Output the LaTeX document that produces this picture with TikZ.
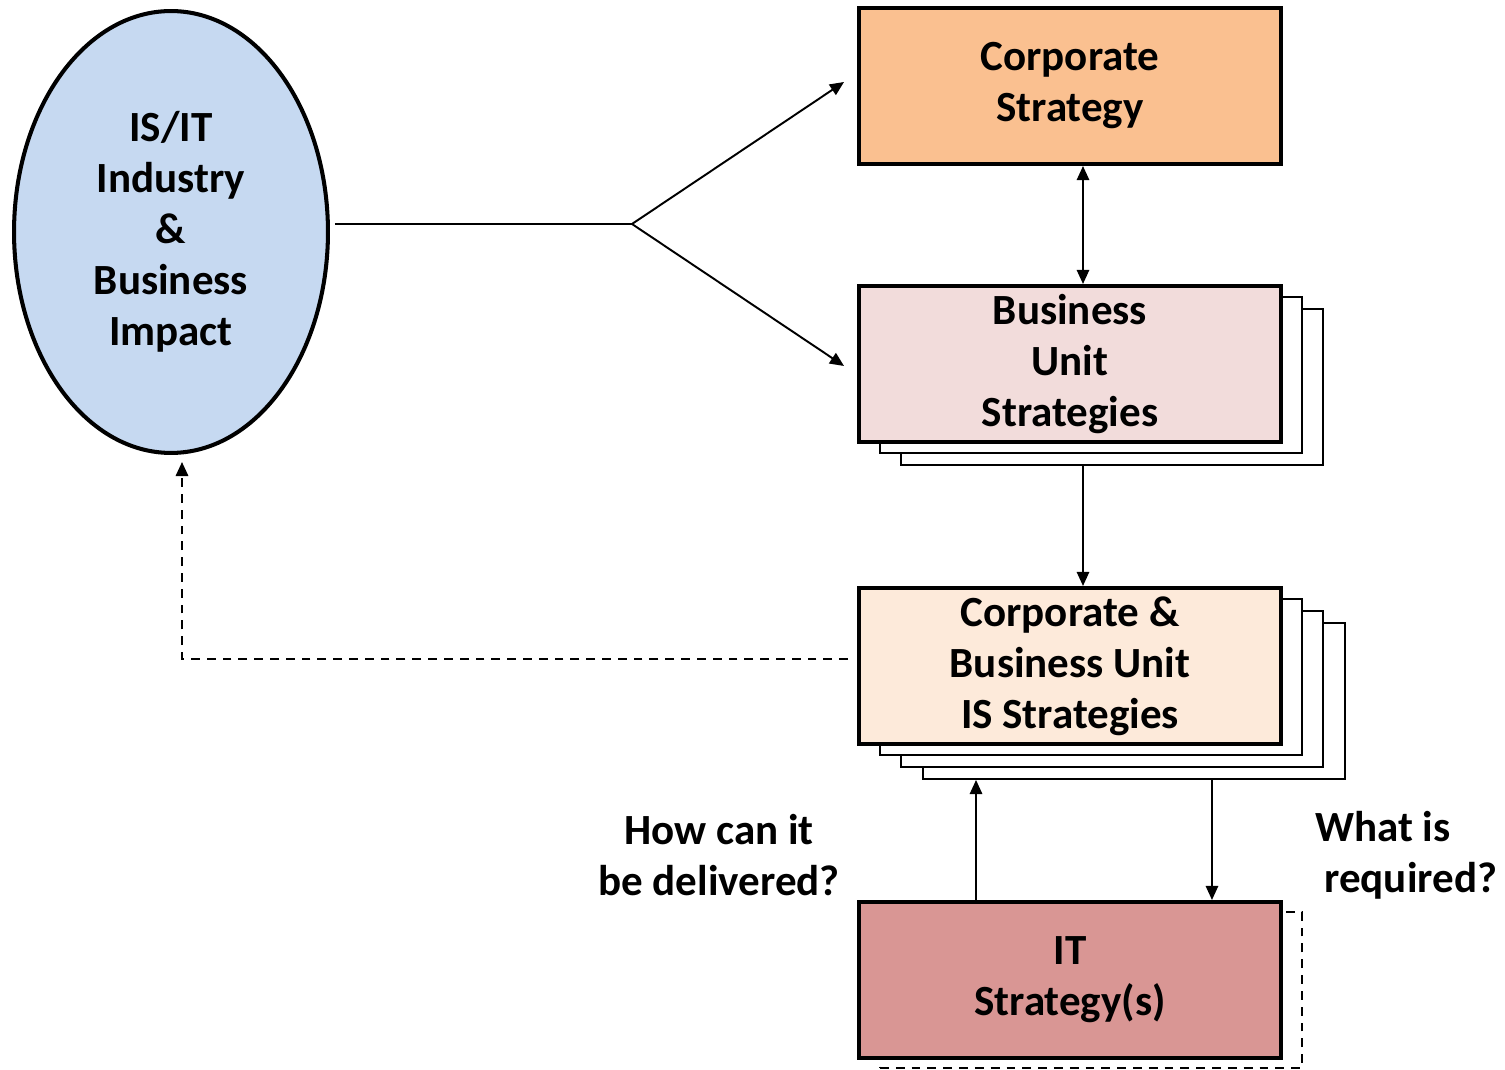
\documentclass[tikz,border=0pt]{standalone}
\usepackage{fontspec}
\setmainfont{Carlito}
\usetikzlibrary{arrows.meta, positioning, shapes.geometric}
\definecolor{impactblue}{HTML}{C6D9F1}
\definecolor{corporange}{HTML}{FAC090}
\definecolor{unitpink}{HTML}{F2DCDB}
\definecolor{isbeige}{HTML}{FDEADA}
\definecolor{itrose}{HTML}{D99694}

\begin{document}
\begin{tikzpicture}[x=0.02cm, y=-0.02cm,
    txt/.style={align=center, font=\fontsize{24.5}{29}\selectfont\bfseries},
    stratbox/.style={draw, line width=2.3pt, minimum width=8.44cm, minimum height=3.12cm, inner sep=0pt, txt},
    stackbox/.style={draw, line width=1.1pt, fill=white, minimum width=8.44cm, minimum height=3.12cm, inner sep=0pt},
    arr/.style={line width=1.1pt, -{Triangle[length=8pt, width=7pt]}},
    darr/.style={line width=1.1pt, {Triangle[length=8pt, width=7pt]}-{Triangle[length=8pt, width=7pt]}},
    dashline/.style={dash pattern=on 5pt off 4pt}]
    \useasboundingbox (0,0) rectangle (1505,1070);

    % Impact ellipse
    \node (impact) [ellipse, draw, line width=2.3pt, fill=impactblue, minimum width=6.28cm, minimum height=8.84cm, inner sep=0pt, txt] at (171,232) {IS/IT\\Industry\\\&\\Business\\Impact};

    % Stacked copies behind
    \node (unit2) [stackbox] at (1112,387) {};
    \node (unit1) [stackbox] at (1091,375) {};
    \node (is3) [stackbox] at (1134,701) {};
    \node (is2) [stackbox] at (1112,689) {};
    \node (is1) [stackbox] at (1091,677) {};
    \node (it1) [stackbox, dashline] at (1091,990) {};

    % Strategy boxes
    \node (corp) [stratbox, fill=corporange] at (1070,86) {Corporate\\Strategy};
    \node (unit) [stratbox, fill=unitpink] at (1070,364) {Business\\Unit\\Strategies};
    \node (is) [stratbox, fill=isbeige] at (1070,666) {Corporate \&\\Business Unit\\IS Strategies};
    \node (it) [stratbox, fill=itrose] at (1070,980) {IT\\Strategy(s)};

    % Questions
    \node (how) [txt] at (719,855) {How can it\\be delivered?};
    \node (what) [txt, align=left, anchor=west, inner sep=0pt] at (1315,855) {What is\\\hspace*{0.18cm}required?};

    % Arrows
    \coordinate (fork) at (632,224);
    \draw[line width=1.1pt] ([xshift=0.1cm]impact.east |- fork) -- (fork);
    \draw[arr] (fork) -- ([xshift=-0.26cm, yshift=0.08cm]corp.west);
    \draw[arr] (fork) -- ([xshift=-0.26cm, yshift=-0.04cm]unit.west);
    \draw[darr] ([xshift=0.26cm]corp.south) -- ([xshift=0.26cm]unit.north);
    \draw[arr] ([xshift=0.26cm]corp.south |- unit2.south) -- ([xshift=0.26cm]is.north);
    \draw[arr, dashline, line width=1.3pt] ([xshift=-0.18cm, yshift=0.14cm]is.west) -| ([xshift=0.22cm, yshift=-0.14cm]impact.south);
    \draw[arr] ([xshift=-1.88cm]it.north) -- ([xshift=-1.88cm]it.north |- is3.south);
    \draw[arr] ([xshift=2.84cm]it.north |- is3.south) -- ([xshift=2.84cm]it.north);
\end{tikzpicture}
\end{document}
